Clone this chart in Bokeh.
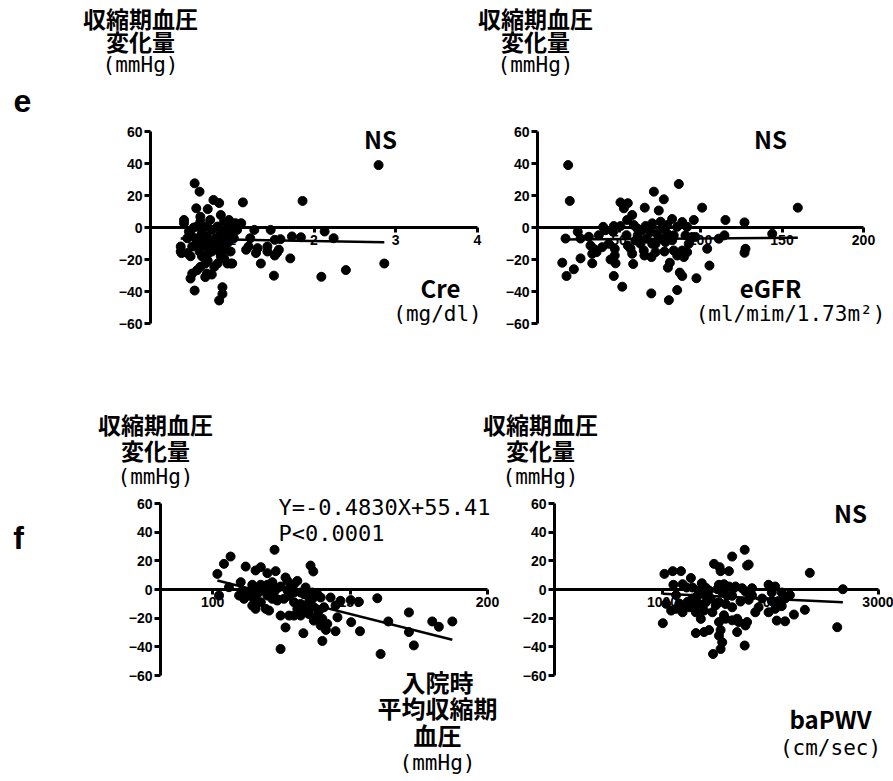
import numpy as np
from bokeh.plotting import figure
from bokeh.models import Range1d, Label, FixedTicker, LinearAxis
from bokeh.layouts import column
from bokeh.embed import file_html
from bokeh.resources import INLINE

# ---------------- data ----------------
Y_TICKS = [-60, -40, -20, 0, 20, 40, 60]

cre_ticks = [1, 2, 3, 4]
cre_axis = [0, 4]
cre_x = [0.54, 0.60, 0.56, 0.77, 0.70, 0.84, 1.13, 1.86, 2.79, 0.86,
         0.41, 0.41, 0.61, 0.73, 0.96, 1.04, 1.27, 1.47, 2.13, 1.73,
         1.84, 2.24, 1.52, 1.59, 1.22, 1.20, 1.31, 1.43, 1.17, 1.29,
         1.43, 1.55, 1.57, 1.71, 1.35, 1.52, 1.51, 2.09, 2.39, 2.86,
         0.98, 0.86, 0.37, 0.37, 0.38, 0.49, 0.51, 0.45, 0.49, 0.55,
         0.63, 0.69, 0.65, 0.60, 0.71, 0.63, 0.75, 0.80, 0.84, 0.84,
         0.90, 0.94, 0.98, 0.92, 0.82, 0.75, 0.69, 0.86, 0.80, 0.69,
         0.67, 0.70, 0.61, 0.57, 0.51, 0.49, 0.69, 0.75, 0.67, 0.54,
         0.88, 0.88, 0.84, 0.94, 1.00, 0.90, 0.86, 0.82, 0.78, 1.06,
         1.02, 0.53, 0.47, 0.61, 0.57, 0.90, 0.96, 0.82, 0.73, 0.57,
         0.45, 0.98, 0.92, 1.11, 0.61]
cre_y = [27.6, 22.4, 12, 17.2, 11.5, 15.3, 15.7, 16.6, 39, 7.8,
         4.7, 2.7, 3.7, 4.7, 4.7, 2.7, -1.5, -1.5, -2.5, -5.6,
         -6.1, -6.7, -7.7, -7.3, -6.7, -11.9, -12.9, -11.9, -13.9, -16,
         -15, -15.6, -13.9, -19.3, -22.5, -17.5, -30.1, -30.8, -26.6, -22.5,
         -22.5, -11.9, -11.9, -15, -16, -18, -11.9, -6.7, -4.6, -6.7,
         -3.5, -5.6, -10.8, -15, -16, -18, -15, -12.9, -10.8, -15,
         -13.9, -9.8, -4.6, -1.5, 0.6, -1.5, 0.6, -3.5, -6.7, -11.9,
         -22.5, -20.8, -24.6, -26.7, -28.8, -31.9, -28.8, -29.4, -31, -39.4,
         -37.3, -41.5, -45.6, -22.5, -22.5, -19.3, -18, -22.5, -24.6, -1.5,
         -6.7, 0, -2.5, 6.7, 0.6, 3.7, -0.4, -6.7, -9.8, -9.8,
         -16, -15, -6.7, 2.7, -6.7]
cre_fit = [-0.9, -6.6]          # slope, intercept

egfr_ticks = [50, 100, 150, 200]
egfr_axis = [0, 200]
egfr_x = [18.8, 19.8, 86.7, 71.4, 77.5, 50.9, 55.4, 53, 58.1, 65.8,
          74.4, 101, 159.7, 82.6, 95.9, 115.3, 127, 88.8, 55, 46.8,
          40.3, 24.7, 17.2, 31.5, 37.6, 46.4, 50.9, 59.1, 66.3, 70.4,
          75.5, 79.6, 85.7, 91.8, 64.2, 69.3, 73.4, 79.6, 83.6, 90.8,
          94.9, 66.9, 75.5, 82.6, 104.1, 111.2, 114.7, 144, 127.6, 127,
          32.5, 34.5, 36.2, 39.7, 33.6, 47.4, 47.4, 57.1, 58.1, 65.2,
          65.6, 69.9, 72.4, 77.9, 83.6, 89.8, 91.8, 85.7, 47.9, 44.8,
          58.7, 33.6, 26.4, 15.2, 17.8, 22.3, 46.8, 52, 69.8, 80.6,
          85.7, 81.2, 80, 87.3, 88.8, 97.5, 105.5, 63.2, 70.4, 60.1,
          41.7, 54.6, 61.5, 72.4, 78.5, 92.8, 96.9, 26.4, 43.7, 55.4,
          77.5, 69.3, 61.2, 88.8]
egfr_y = [39, 16.6, 27.2, 22.4, 17.6, 15.7, 15.2, 12, 7.8, 12.4,
          10.6, 12.4, 12.4, 5.3, 4.7, 4.7, 3.2, 3.4, 4.7, 0.9,
          0.4, -2.7, -6.9, -5.8, -4.8, -2.7, 0.9, 1.5, 0.9, 2.6,
          3.6, 1.5, 0.4, 0.4, -1.8, -2.8, -3.9, -3.9, -4.9, -4.9,
          -5.9, -7, -7, -8, -13.3, -7, -4.9, -3.9, -13.3, -15.8,
          -11.3, -13.3, -15.4, -12.3, -16.4, -13.3, -17.5, -13.3, -16.4, -14.4,
          -17.5, -18.5, -15.4, -15, -14.4, -18.5, -15.4, -17.5, -22.4, -20,
          -22.8, -22.4, -19.3, -22, -30.3, -26.1, -30.3, -37, -41.2, -45.4,
          -39.1, -22, -25.1, -28.2, -30.3, -31.7, -23.8, -10.2, -10.2, -8.1,
          -1.7, -4.8, -4.8, -10.2, -9.1, -10.2, -5.9, -6.9, -10.2, -11.3,
          -0.8, 0.4, -0.6, -14.4]
egfr_fit = [0.007, -7.6]

sbp_ticks = [100, 150, 200]
sbp_axis = [81, 200]
sbp_x = [101.7, 102.3, 104.1, 106.5, 105.9, 112, 110.2, 110.8, 111.4, 115,
         115.6, 117.5, 119.9, 122.9, 122.5, 114.4, 117.5, 119.9, 121.7, 113.8,
         116.2, 118.1, 121.1, 123.5, 124.7, 116.2, 117.5, 119.9, 121.7, 123.5,
         125.9, 114.4, 115.6, 119.3, 120.5, 126.5, 127.2, 129.6, 130.8, 133.8,
         135.6, 136.6, 128.4, 129.6, 127.8, 132, 133.2, 136.3, 138.1, 139.3,
         142.9, 146.5, 150.2, 153.2, 159.9, 129.6, 132, 133.8, 135, 136.8,
         138.7, 140.5, 130.8, 132.6, 129.6, 132, 127.8, 135, 136.8, 138.1,
         139.9, 141.7, 139.3, 141.2, 144.7, 145.4, 150.4, 153.6, 144.7, 139.9,
         133, 126.5, 124.7, 124.7, 161.1, 163.9, 171.4, 171.4, 173.2, 179.9,
         182.3, 187.2, 109.6, 113.2, 122.3, 127.2, 134.5, 136.3]
sbp_y = [10.9, -4.2, 17.9, 23, 1.6, 16, 5.1, -0.7, -6.5, -6.5,
         13.3, 15.6, 11.4, 12.8, 27.7, 3.3, 3.3, 3.3, 5.1, -0.7,
         0.9, -0.7, -0.7, 0.9, 2.1, -3.1, -8.9, -4.2, -6.5, -7.7,
         -6.5, -11.2, -13.5, -13.5, -14.7, 8.4, 6.0, 3.7, 6.0, 1.4,
         16.7, 12.6, 1.4, -2.1, -4.4, -2.1, -3.3, -2.1, -3.3, -5.6,
         -5.6, -7.9, -7.4, -8.6, -6.1, -8.9, -10.1, -12.4, -8.9, -12.4,
         -14.7, -12.4, -13.5, -15.9, -18.2, -18.2, -18.2, -17.1, -21.7, -18.2,
         -20.5, -24, -25.1, -28.2, -11.2, -19.4, -22.8, -29.1, -29.1, -35.9,
         -30.5, -26.5, -41.5, -18.2, -45, -22.3, -16, -29.7, -39, -22.3,
         -26, -22.3, -4.2, -4.2, -1.9, -0.7, -4.2, -6.5]
sbp_fit = [-0.4830, 55.41]

pwv_ticks = [1000, 2000, 3000]
pwv_axis = [0, 3000]
pwv_x = [1018, 1095, 1171, 1003, 1034, 1080, 1101, 1186, 1263, 1126,
         1156, 1186, 1232, 1278, 1294, 1309, 1339, 1364, 1401, 1447,
         1493, 1385, 1355, 1462, 1523, 1569, 1615, 1553, 1599, 1477,
         1529, 1538, 1645, 1615, 1761, 1783, 1798, 1676, 1737, 1829,
         1798, 1722, 1829, 1890, 1859, 1982, 2043, 2012, 2104, 2135,
         2180, 2012, 2073, 2104, 1982, 2043, 2058, 2135, 2217, 2318,
         2364, 2618, 2670, 1523, 1569, 1584, 1645, 1691, 1706, 1768,
         1783, 1691, 1538, 1523, 1431, 1385, 1309, 1553, 1538, 1468,
         1761, 1223, 1278, 1324, 1385, 1508, 1645, 1401, 1523, 1584,
         1645, 1217, 1248, 1126, 1339, 1431, 1661, 1768, 1923]
pwv_y = [10.9, 12.8, 12.8, -23.5, -10, -14.7, 3.3, 3.7, 8, -3.9,
         -9.8, -15.9, -8.6, -6.3, -11.1, -15.9, -0.7, 4.4, 1.2, -6.3,
         -11.1, -14.7, -20.5, -15.9, 3.3, 3.7, 2.1, -1.9, -4.2, 17.9,
         15.6, 12.8, 23, 12.8, 27.7, 16.7, 17.4, 2.1, 0.9, 0.9,
         -7.2, -8.4, -4.2, -12.4, -15.9, 3.3, 2.1, -2.1, -2.1, -6.3,
         -3.9, -8.1, -8.1, -11.6, -15.9, -13.5, -21.7, -22.2, -17.5, -14.2,
         11.6, -26.3, 0.2, -22.7, -18, -20.4, -21.5, -20.4, -22.7, -25.1,
         -22.7, -29.7, -28.3, -32.2, -28.3, -29.7, -30.4, -36.8, -41.5, -45,
         -39.1, 1.4, 1.4, -4.4, -3.3, 0.2, -4.4, -8.9, -8.9, -10.1,
         -12.4, -11.2, -12.4, -13.5, -10.1, -0.7, 0.9, -1.4, -6.3]
pwv_fit = [-0.0036, 0.64]

# ---------------- styling ----------------
JP = "Noto Sans CJK JP"
NUM = "Liberation Sans"
MONO = "DejaVu Sans Mono"
W = 893


def style_axis(ax, ticks, tout):
    ax.ticker = FixedTicker(ticks=ticks)
    ax.axis_line_width = 3
    ax.axis_line_color = "black"
    ax.major_tick_line_width = 3
    ax.major_tick_line_color = "black"
    ax.major_tick_out = tout
    ax.major_tick_in = 0
    ax.minor_tick_line_color = None
    ax.major_label_text_font = NUM
    ax.major_label_text_font_style = "bold"
    ax.major_label_text_font_size = "14px"
    ax.major_label_text_color = "black"
    ax.major_label_standoff = 2


def make_row(top, height, y_box, panels):
    """One canvas per row; each panel has its own x range.
    y_box = (top, bottom) page pixels of the y axis (60 .. -60);
    panels = [(x_box(left,right), axis_x, ticks, xs, ys, fit), ...]"""
    ft, fb = y_box
    sy = 120.0 / (fb - ft)
    yr = Range1d(-60 - (top + height - fb) * sy, 60 + (ft - top) * sy)
    xranges = []
    for (fl, fr), (x0, x1), *_ in panels:
        sx = (x1 - x0) / (fr - fl)
        xranges.append(Range1d(x0 - fl * sx, x1 + (W - fr) * sx))
    p = figure(width=W, height=height, x_range=xranges[0], y_range=yr,
               output_backend="svg", toolbar_location=None, min_border=0)
    p.extra_x_ranges = {"right": xranges[1]}
    p.outline_line_color = None
    p.xgrid.visible = False
    p.ygrid.visible = False
    p.background_fill_color = "white"
    p.border_fill_color = "white"

    for i, (xb, (x0, x1), ticks, xs, ys, fit) in enumerate(panels):
        rn = "default" if i == 0 else "right"
        if i == 0:
            xa, ya = p.xaxis[0], p.yaxis[0]
        else:
            xa = LinearAxis(x_range_name=rn)
            ya = LinearAxis(x_range_name=rn)
            p.add_layout(xa, "below")
            p.add_layout(ya, "left")
        style_axis(xa, ticks, 5)
        style_axis(ya, Y_TICKS, 6)
        xa.fixed_location = 0
        xa.bounds = (x0, x1)
        ya.fixed_location = x0
        ya.bounds = (-60, 60)

        p.scatter(xs, ys, size=9, color="black", x_range_name=rn)
        lx = np.array([min(xs), max(xs)])
        p.line(lx, fit[0] * lx + fit[1], line_width=2.5, color="black", x_range_name=rn)

    (fl, fr), (x0, x1) = panels[0][0], panels[0][1]
    sx = (x1 - x0) / (fr - fl)

    def text(px, py, s, font=JP, size="24px", style="bold", align="center"):
        x = x0 + (px - fl) * sx
        y = 60 - (py - ft) * sy
        p.add_layout(Label(x=x, y=y, text=s, text_font=font, text_font_size=size,
                           text_font_style=style, text_align=align,
                           text_baseline="middle", text_color="black"))
    return p, text


TITLE = ["収縮期血圧", "変化量", "(mmHg)"]

r1, t1 = make_row(0, 392, (131, 323), [
    ((150, 477), cre_axis, cre_ticks, cre_x, cre_y, cre_fit),
    ((537, 863), egfr_axis, egfr_ticks, egfr_x, egfr_y, egfr_fit)])
r2, t2 = make_row(392, 388, (503, 675), [
    ((160, 487), sbp_axis, sbp_ticks, sbp_x, sbp_y, sbp_fit),
    ((554, 878), pwv_axis, pwv_ticks, pwv_x, pwv_y, pwv_fit)])

for t, cx, ys_ in ((t1, 140, (17, 40, 64)), (t1, 535, (17, 40, 64)),
                   (t2, 155, (423, 449, 476)), (t2, 540, (423, 449, 476))):
    t(cx, ys_[0], TITLE[0], size="23px")
    t(cx, ys_[1], TITLE[1], size="23px")
    t(cx, ys_[2], TITLE[2], font=MONO, size="21px", style="normal")

t1(22, 100, "e", font=NUM, size="32px")
t2(18, 537, "f", font=NUM, size="32px")

t1(380, 138, "NS")
t1(770, 138, "NS")
t2(850, 512, "NS")

t1(440, 287, "Cre")
t1(437, 313, "(mg/dl)", font=MONO, size="21px", style="normal")
t1(770, 287, "eGFR")
t1(790, 313, "(ml/mim/1.73m²)", font=MONO, size="21px", style="normal")

t2(278, 507, "Y=-0.4830X+55.41", font=MONO, size="22px", style="normal", align="left")
t2(278, 533, "P<0.0001", font=MONO, size="22px", style="normal", align="left")

t2(437, 681, "入院時")
t2(437, 707, "平均収縮期")
t2(437, 734, "血圧")
t2(437, 762, "(mmHg)", font=MONO, size="21px", style="normal")

t2(830, 718, "baPWV")
t2(830, 747, "(cm/sec)", font=MONO, size="21px", style="normal")

layout = column(r1, r2)
open("out.html", "w").write(file_html(layout, INLINE))
